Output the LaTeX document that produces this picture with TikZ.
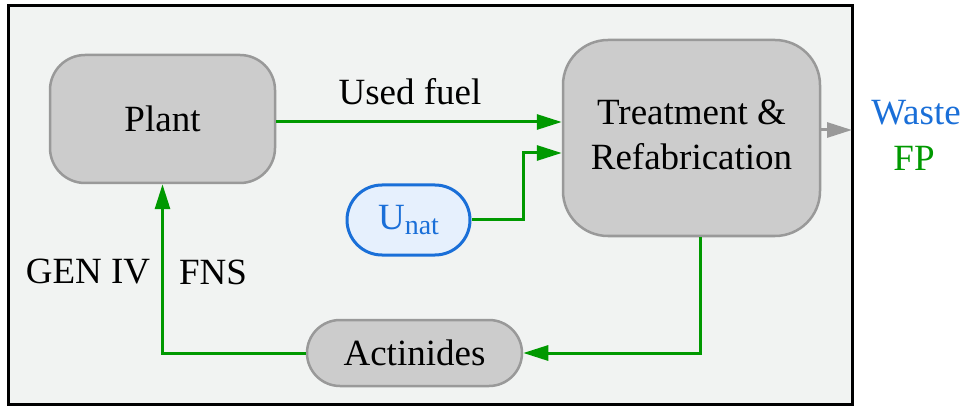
\documentclass[tikz,border=0pt]{standalone}
\usepackage{fontspec}
\setmainfont{Liberation Serif}
\usetikzlibrary{arrows.meta}
\definecolor{bgc}{HTML}{F1F3F2}
\definecolor{boxfill}{HTML}{CCCCCC}
\definecolor{boxdraw}{HTML}{999999}
\definecolor{grn}{HTML}{009900}
\definecolor{blu}{HTML}{1A6FD8}
\definecolor{blufill}{HTML}{E6F0FD}
\tikzset{
  box/.style={draw=boxdraw, fill=boxfill, line width=2.5pt, inner sep=0pt, align=center,
    font=\fontsize{37}{45}\selectfont},
  flow/.style={draw=grn, line width=3pt, -{Triangle[length=25pt,width=15pt]}},
  txt/.style={inner sep=0pt, font=\fontsize{37}{45}\selectfont},
}
\begin{document}
\begin{tikzpicture}[x=1pt,y=-1pt]
\useasboundingbox[fill=white] (0,0) rectangle (969,406);
\draw[fill=bgc, line width=3pt] (8,6) rectangle (852,404);
\node[box, rounded corners=35pt, minimum width=225pt, minimum height=128pt] (plant) at (162.5,119) {Plant};
\node[box, rounded corners=45pt, minimum width=257pt, minimum height=196pt] (treat) at (691.5,138) {\raisebox{7pt}{Treatment \&}\\\raisebox{7pt}{Refabrication}};
\node[box, draw=blu, fill=blufill, line width=3pt, rounded corners=35pt, minimum width=123pt, minimum height=70pt, text=blu] (unat) at (408.5,220) {U\raisebox{-0.35ex}{\fontsize{28}{30}\selectfont nat}};
\node[box, rounded corners=33pt, minimum width=215pt, minimum height=66pt] (act) at (414.5,353) {Actinides};
\node[txt] (used) at (410,92) {Used fuel};
\node[txt] (gen) at (88,272) {GEN IV};
\node[txt] (fns) at (213,272) {FNS};
\node[txt, text=blu] (waste) at (916,113) {Waste};
\node[txt, text=grn] (fp) at (914,158) {FP};
\coordinate (wend) at (852,130);
\draw[flow] (plant.east |- 0,122) -- (treat.west |- 0,122);
\draw[flow] (unat.east) -| (523,153) -- (treat.west |- 0,153);
\draw[flow] (treat.south -| 700,0) |- (act.east);
\draw[flow] (act.west) -| (plant.south);
\draw[draw=boxdraw, line width=3pt, -{Triangle[length=25pt,width=15pt]}] (treat.east |- wend) -- (wend);
\end{tikzpicture}
\end{document}
